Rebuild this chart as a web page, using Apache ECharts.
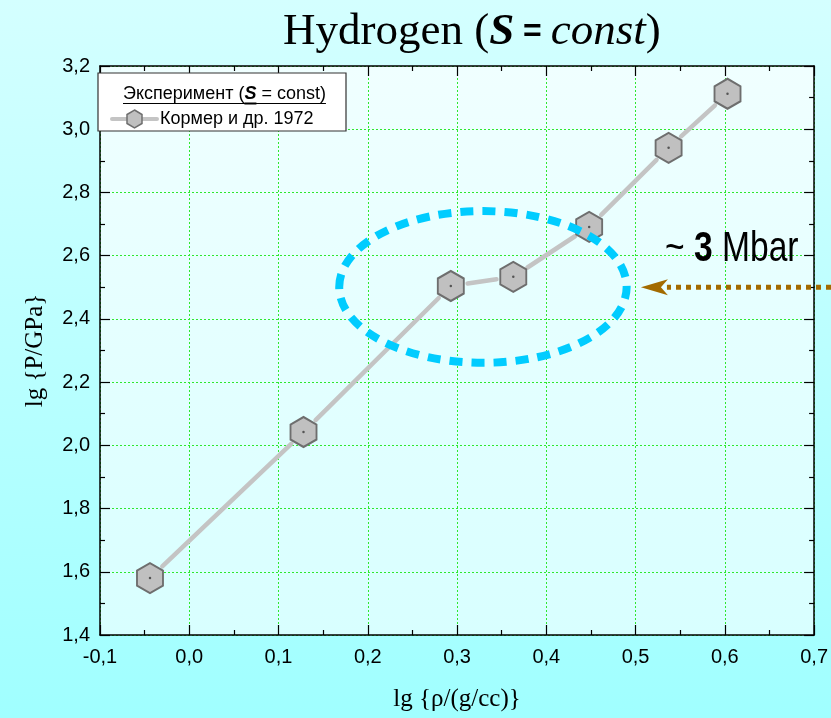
<!DOCTYPE html>
<html>
<head>
<meta charset="utf-8">
<script src="https://cdn.jsdelivr.net/npm/echarts@6/dist/echarts.min.js"></script>
<style>
  html, body { margin: 0; padding: 0; width: 831px; height: 718px; overflow: hidden; }
  #chart { width: 831px; height: 718px; }
</style>
</head>
<body>
<div id="chart"></div>
<script>
// Isentropic compression of hydrogen, Кормер и др. 1972
const lgRho = [-0.044, 0.128, 0.293, 0.363, 0.448, 0.537, 0.603];
const lgP   = [1.580, 2.042, 2.504, 2.533, 2.691, 2.941, 3.112];

// axis ranges / ticks
const xRange = { min: -0.1, max: 0.7, step: 0.1 };
const yRange = { min: 1.4, max: 3.2, step: 0.2 };

// highlighted region (ellipse, in data units) and arrow level
const ringCenter = [0.329, 2.501];
const ringRadius = [0.161, 0.240];
const arrowLevel = 2.50;

const points = lgRho.map((x, i) => [x, lgP[i]]);

const SERIF = "'Liberation Serif', 'Times New Roman', serif";
const SANS = "'Liberation Sans', Arial, sans-serif";
const HEX = 'path://M0,-1 L0.866,-0.5 L0.866,0.5 L0,1 L-0.866,0.5 L-0.866,-0.5 Z';

const fmt = v => v.toFixed(1).replace('.', ',');

const chart = echarts.init(document.getElementById('chart'), null, { renderer: 'canvas' });

function axisCommon(show) {
  return {
    axisLine: { show: true, onZero: false, lineStyle: { color: '#000', width: 1.5 } },
    axisTick: { show: true, inside: true, length: 10, lineStyle: { color: '#000', width: 1.2 } },
    minorTick: { show: true, splitNumber: 2, length: 5, lineStyle: { color: '#000', width: 1.2 } },
    splitLine: { show: false },
    axisLabel: { show: show }
  };
}

const gridLine = { show: true, lineStyle: { color: '#2ee82e', width: 1, type: [2, 2] } };

chart.setOption({
  backgroundColor: {
    type: 'linear', x: 0, y: 0, x2: 0, y2: 1,
    colorStops: [{ offset: 0, color: '#d4ffff' }, { offset: 1, color: '#a0ffff' }]
  },
  title: {
    text: '{r|Hydrogen (}{s|S}{e| = }{i|const}{r|)}',
    left: 278, top: 5,
    textStyle: {
      rich: {
        r: { fontFamily: SERIF, fontSize: 45, fontWeight: 'normal', color: '#000' },
        s: { fontFamily: SERIF, fontSize: 45, fontWeight: 'bold', fontStyle: 'italic', color: '#000' },
        e: { fontFamily: SANS, fontSize: 32, fontWeight: 'bold', color: '#000' },
        i: { fontFamily: SERIF, fontSize: 45, fontWeight: 'normal', fontStyle: 'italic', color: '#000' }
      }
    }
  },
  grid: {
    left: 100, right: 15, top: 66, bottom: 83,
    show: true, borderWidth: 0,
    backgroundColor: {
      type: 'linear', x: 0, y: 0, x2: 0, y2: 1,
      colorStops: [{ offset: 0, color: '#f0ffff' }, { offset: 1, color: '#d8ffff' }]
    }
  },
  xAxis: [
    Object.assign(axisCommon(true), {
      type: 'value', position: 'bottom', min: xRange.min, max: xRange.max, interval: xRange.step,
      splitLine: gridLine,
      axisLabel: { show: true, formatter: fmt, fontFamily: SANS, fontSize: 20, color: '#000', margin: 12 },
      name: 'lg {ρ/(g/cc)}', nameLocation: 'middle', nameGap: 52,
      nameTextStyle: { fontFamily: SERIF, fontSize: 25, color: '#000' }
    }),
    Object.assign(axisCommon(false), {
      type: 'value', position: 'top', min: xRange.min, max: xRange.max, interval: xRange.step
    })
  ],
  yAxis: [
    Object.assign(axisCommon(true), {
      type: 'value', position: 'left', min: yRange.min, max: yRange.max, interval: yRange.step,
      splitLine: gridLine,
      axisLabel: { show: true, formatter: fmt, fontFamily: SANS, fontSize: 20, color: '#000', margin: 10 },
      name: 'lg {P/GPa}', nameLocation: 'middle', nameGap: 52,
      nameTextStyle: { fontFamily: SERIF, fontSize: 25, color: '#000' }
    }),
    Object.assign(axisCommon(false), {
      type: 'value', position: 'right', min: yRange.min, max: yRange.max, interval: yRange.step
    })
  ],
  series: [
    {
      // connecting segments, stopped short of each marker
      type: 'custom',
      xAxisIndex: 0, yAxisIndex: 0,
      data: points,
      encode: { x: 0, y: 1 },
      z: 2,
      renderItem: function (params, api) {
        const i = params.dataIndex;
        if (i === 0) return null;
        const a = api.coord(points[i - 1]);
        const b = api.coord([api.value(0), api.value(1)]);
        const dx = b[0] - a[0], dy = b[1] - a[1];
        const L = Math.hypot(dx, dy);
        const g = 17;
        if (L <= 2 * g) return null;
        const ux = dx / L, uy = dy / L;
        return {
          type: 'line',
          shape: { x1: a[0] + ux * g, y1: a[1] + uy * g, x2: b[0] - ux * g, y2: b[1] - uy * g },
          style: { stroke: '#c4c4c4', lineWidth: 4.5, lineCap: 'round' }
        };
      }
    },
    {
      type: 'scatter',
      data: points,
      symbol: HEX,
      symbolSize: [26, 30],
      itemStyle: { color: '#c0c0c0', borderColor: '#6e6e6e', borderWidth: 2, opacity: 1 },
      z: 3
    },
    {
      type: 'scatter',
      data: points,
      symbol: 'circle',
      symbolSize: 2.5,
      itemStyle: { color: '#555', opacity: 1 },
      z: 4
    }
  ]
});

// text width helper for the underlined legend header
const measureCtx = document.createElement('canvas').getContext('2d');
function textWidth(str, font) {
  measureCtx.font = font;
  return measureCtx.measureText(str).width;
}

const c = chart.convertToPixel({ xAxisIndex: 0, yAxisIndex: 0 }, ringCenter);
const c2 = chart.convertToPixel({ xAxisIndex: 0, yAxisIndex: 0 },
  [ringCenter[0] + ringRadius[0], ringCenter[1] + ringRadius[1]]);
const rx = c2[0] - c[0], ry = c[1] - c2[1];
const arrowY = chart.convertToPixel({ yAxisIndex: 0 }, arrowLevel);
const tipX = chart.convertToPixel({ xAxisIndex: 0 }, 0.506);

const LEG_FS = 18;
const hdrFont = LEG_FS + 'px ' + SANS;
const hdrFontS = 'italic bold ' + LEG_FS + 'px ' + SANS;
const w1 = textWidth('Эксперимент (', hdrFont);
const w2 = textWidth('S', hdrFontS);
const w3 = textWidth(' = const)', hdrFont);
const hdrX = 123;

function hexPoints(cx, cy, rw, rh) {
  return [[cx, cy - rh], [cx + rw, cy - rh / 2], [cx + rw, cy + rh / 2],
          [cx, cy + rh], [cx - rw, cy + rh / 2], [cx - rw, cy - rh / 2]];
}

const NARROW = "'Liberation Sans Narrow', 'Arial Narrow', 'Liberation Sans', sans-serif";

chart.setOption({
  graphic: [
    {
      type: 'ellipse', z: 10, silent: true,
      shape: { cx: c[0], cy: c[1], rx: rx, ry: ry },
      style: { fill: null, stroke: '#00ccff', lineWidth: 8, lineDash: [13, 9] }
    },
    {
      type: 'line', z: 10, silent: true,
      shape: { x1: 831, y1: arrowY, x2: tipX + 26, y2: arrowY },
      style: { stroke: '#a36b00', lineWidth: 5, lineDash: [5, 5] }
    },
    {
      type: 'polygon', z: 10, silent: true,
      shape: { points: [[tipX, arrowY], [tipX + 27, arrowY - 8], [tipX + 20, arrowY], [tipX + 27, arrowY + 8]] },
      style: { fill: '#a36b00' }
    },
    {
      type: 'text', z: 10, silent: true,
      x: 665, y: 249, scaleX: 0.8,
      style: {
        text: '{n|~ }{b|3}{n| Mbar}',
        verticalAlign: 'middle',
        rich: {
          n: { fontFamily: NARROW, fontSize: 42, fill: '#000' },
          b: { fontFamily: NARROW, fontSize: 42, fontWeight: 600, fill: '#000' }
        }
      }
    },
    // legend box
    {
      type: 'rect', z: 20, silent: true,
      shape: { x: 98, y: 73, width: 248, height: 58 },
      style: { fill: '#fff', stroke: '#333', lineWidth: 1.2 }
    },
    {
      type: 'text', z: 21, silent: true,
      x: hdrX, y: 94,
      style: {
        text: '{a|Эксперимент (}{s|S}{a| = const)}',
        verticalAlign: 'middle',
        rich: {
          a: { fontFamily: SANS, fontSize: LEG_FS, fill: '#000' },
          s: { fontFamily: SANS, fontSize: LEG_FS, fontWeight: 'bold', fontStyle: 'italic', fill: '#000' }
        }
      }
    },
    {
      type: 'line', z: 21, silent: true,
      shape: { x1: hdrX, y1: 103.5, x2: hdrX + w1 + w2 + w3, y2: 103.5 },
      style: { stroke: '#000', lineWidth: 1.2 }
    },
    {
      type: 'line', z: 21, silent: true,
      shape: { x1: hdrX + w1, y1: 103.5, x2: hdrX + w1 + w2, y2: 103.5 },
      style: { stroke: '#000', lineWidth: 2 }
    },
    {
      type: 'line', z: 21, silent: true,
      shape: { x1: 112, y1: 119, x2: 157, y2: 119 },
      style: { stroke: '#c4c4c4', lineWidth: 4, lineCap: 'round' }
    },
    {
      type: 'polygon', z: 22, silent: true,
      shape: { points: hexPoints(134.5, 119, 7.5, 9) },
      style: { fill: '#c0c0c0', stroke: '#6e6e6e', lineWidth: 1.5 }
    },
    {
      type: 'text', z: 21, silent: true,
      x: 160, y: 119,
      style: {
        text: 'Кормер и др. 1972',
        verticalAlign: 'middle',
        fontFamily: SANS, fontSize: LEG_FS, fill: '#000'
      }
    }
  ]
});
</script>
</body>
</html>
